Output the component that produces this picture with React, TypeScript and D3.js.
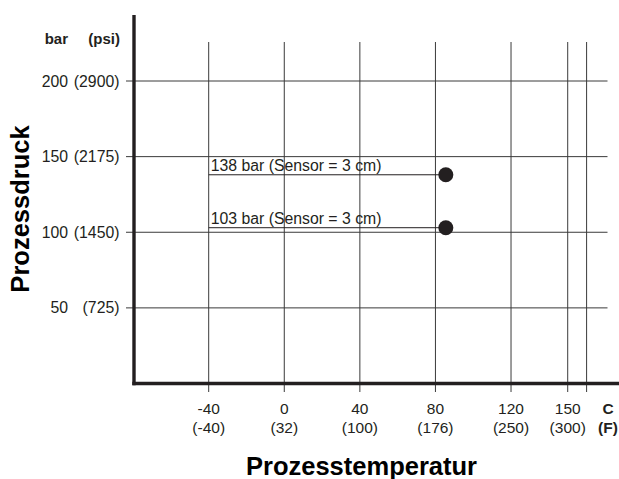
import React from "react";
import * as d3 from "d3";

const tempTicksC = [-40, 0, 40, 80, 120, 150];
const tempTicksF = ["(-40)", "(32)", "(100)", "(176)", "(250)", "(300)"];
const extraGridTemps = [160];
const pressureTicks = [50, 100, 150, 200];
const pressurePsi = ["(725)", "(1450)", "(2175)", "(2900)"];
const pointTemps = [85.5, 85.5];
const pointPressures = [138, 103];
const pointLabels = ["138 bar (Sensor = 3 cm)", "103 bar (Sensor = 3 cm)"];

const W = 619;
const H = 479;
const FONT = "'Liberation Sans', Arial, Helvetica, sans-serif";

export default function App() {
  const x = d3.scaleLinear().domain([-40, 160]).range([208.7, 586.6]);
  const y = d3.scaleLinear().domain([0, 200]).range([383.5, 81]);
  const axisX = 134;
  const axisY = 383.5;
  const gridColor = "#3a3a3a";
  const ink = "#231f20";

  return (
    <svg
      width={W}
      height={H}
      style={{ position: "absolute", left: 0, top: 0, background: "#fff" }}
      fontFamily={FONT}
    >
      <rect width={W} height={H} fill="#fff" />
      {/* horizontal grid */}
      {pressureTicks.map((p) => (
        <line key={"h" + p} x1={126} x2={607.5} y1={y(p)} y2={y(p)} stroke={gridColor} strokeWidth={1} />
      ))}
      {/* vertical grid */}
      {[...tempTicksC, ...extraGridTemps].map((t) => (
        <line key={"v" + t} x1={x(t)} x2={x(t)} y1={42} y2={392} stroke={gridColor} strokeWidth={1} />
      ))}
      {/* axes */}
      <line x1={axisX} x2={axisX} y1={15} y2={axisY + 1.7} stroke={ink} strokeWidth={3.4} />
      <line x1={axisX - 1.7} x2={W} y1={axisY} y2={axisY} stroke={ink} strokeWidth={3.4} />

      {/* y tick labels */}
      <text x={68} y={43.5} fontSize={15} fontWeight="bold" textAnchor="end" fill={ink}>bar</text>
      <text x={120} y={43.5} fontSize={15} fontWeight="bold" textAnchor="end" fill={ink}>(psi)</text>
      {pressureTicks.map((p, i) => (
        <g key={"yl" + p}>
          <text x={68} y={y(p) + 5.6} fontSize={15.8} textAnchor="end" fill={ink}>{p}</text>
          <text x={119.5} y={y(p) + 5.6} fontSize={15.8} textAnchor="end" fill={ink}>{pressurePsi[i]}</text>
        </g>
      ))}

      {/* x tick labels */}
      {tempTicksC.map((t, i) => (
        <g key={"xl" + t}>
          <text x={x(t)} y={414} fontSize={15.5} textAnchor="middle" fill={ink}>{t}</text>
          <text x={x(t)} y={433} fontSize={15.5} textAnchor="middle" fill={ink}>{tempTicksF[i]}</text>
        </g>
      ))}
      <text x={608} y={414} fontSize={15.5} fontWeight="bold" textAnchor="middle" fill={ink}>C</text>
      <text x={608} y={433} fontSize={15.5} fontWeight="bold" textAnchor="middle" fill={ink}>(F)</text>

      {/* points with leader lines */}
      {pointPressures.map((p, i) => (
        <g key={"pt" + i}>
          <line x1={x(-40)} x2={x(pointTemps[i])} y1={y(p)} y2={y(p)} stroke={ink} strokeWidth={1} />
          <text x={x(-40) + 2} y={y(p) - 4} fontSize={15.8} fill={ink}>{pointLabels[i]}</text>
          <circle cx={x(pointTemps[i])} cy={y(p)} r={7.5} fill={ink} />
        </g>
      ))}

      {/* axis titles */}
      <text x={361.5} y={475} fontSize={25.5} fontWeight="bold" textAnchor="middle" fill="#000">Prozesstemperatur</text>
      <text
        transform={`translate(28.5,209) rotate(-90)`}
        fontSize={25.5}
        fontWeight="bold"
        textAnchor="middle"
        fill="#000"
      >
        Prozessdruck
      </text>
    </svg>
  );
}
